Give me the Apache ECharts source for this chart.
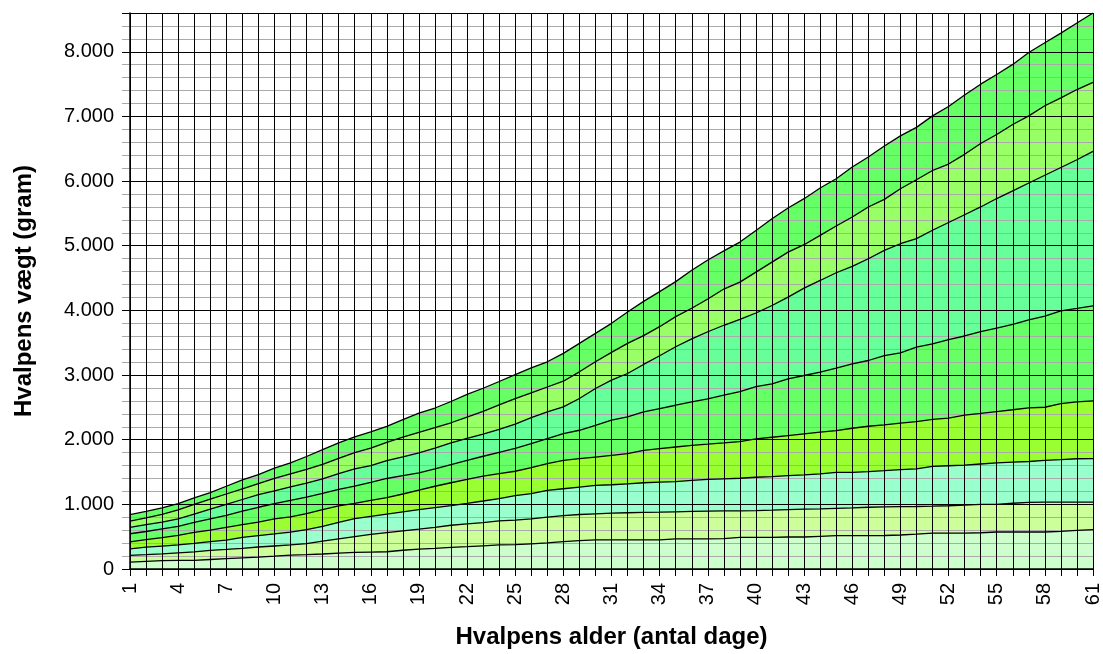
<!DOCTYPE html>
<html>
<head>
<meta charset="utf-8">
<script src="https://cdn.jsdelivr.net/npm/echarts@6/dist/echarts.min.js"></script>
<style>html,body{margin:0;padding:0;background:#fff}#c{width:1103px;height:654px}</style>
</head>
<body>
<div id="c"></div>
<script>
// Categories: puppy age in days
const days = ['1','2','3','4','5','6','7','8','9','10','11','12','13','14','15','16','17','18','19','20','21','22','23','24','25','26','27','28','29','30','31','32','33','34','35','36','37','38','39','40','41','42','43','44','45','46','47','48','49','50','51','52','53','54','55','56','57','58','59','60','61'];

// Weight curves (gram), lowest to highest
const w1 = [105,118,130,132,133,147,160,172,184,198,214,222,232,245,257,262,267,290,308,320,334,345,359,372,378,390,403,424,440,450,450,450,450,452,465,465,466,470,490,490,490,495,495,506,516,516,516,518,526,540,556,556,556,561,572,572,572,572,583,598,608];
const w2 = [212,222,235,250,265,287,303,320,340,356,372,392,430,465,500,535,564,590,616,645,677,698,718,745,755,776,802,827,843,853,863,870,875,879,885,890,895,900,900,903,910,918,925,929,939,944,955,962,965,967,972,978,989,1000,1000,1017,1030,1033,1033,1033,1033];
const w3 = [312,338,355,372,395,425,448,488,515,542,570,610,660,720,780,815,850,885,919,950,980,1015,1052,1090,1135,1165,1215,1241,1267,1292,1303,1318,1334,1344,1350,1370,1385,1395,1404,1419,1429,1445,1455,1471,1496,1496,1507,1522,1538,1550,1586,1597,1608,1624,1641,1652,1663,1680,1691,1705,1707];
const w4 = [420,455,485,520,565,600,645,685,725,775,805,855,920,975,1016,1060,1103,1160,1221,1280,1334,1385,1437,1475,1512,1567,1629,1680,1706,1732,1758,1784,1835,1861,1887,1913,1930,1950,1971,2012,2038,2064,2090,2116,2141,2177,2208,2229,2255,2280,2313,2335,2380,2407,2435,2463,2491,2502,2558,2585,2602];
const w5 = [545,580,620,660,720,775,830,895,955,1010,1060,1110,1170,1230,1283,1340,1400,1445,1488,1550,1616,1680,1744,1805,1865,1939,2016,2094,2146,2223,2301,2352,2430,2482,2533,2585,2630,2690,2745,2822,2864,2941,2993,3044,3106,3173,3225,3302,3344,3431,3481,3548,3604,3671,3726,3782,3854,3910,3993,4030,4070];
const w6 = [645,685,725,775,850,925,1000,1075,1150,1210,1270,1330,1395,1475,1549,1600,1677,1735,1796,1870,1950,2020,2088,2160,2240,2340,2430,2507,2637,2792,2921,3024,3164,3298,3438,3560,3670,3770,3860,3960,4076,4205,4345,4463,4582,4680,4799,4928,5031,5110,5240,5360,5480,5600,5730,5850,5970,6090,6210,6330,6460];
const w7 = [740,790,845,915,1000,1080,1160,1240,1320,1400,1470,1540,1620,1710,1800,1870,1960,2040,2113,2185,2262,2350,2437,2540,2635,2725,2815,2905,3050,3205,3350,3490,3609,3748,3903,4033,4177,4330,4438,4592,4747,4902,5016,5160,5305,5444,5599,5717,5882,6020,6164,6264,6414,6581,6720,6876,7009,7165,7288,7416,7527];
const w8 = [840,890,945,1010,1100,1180,1280,1380,1460,1560,1640,1740,1845,1950,2045,2120,2206,2310,2411,2490,2591,2700,2796,2900,3005,3110,3205,3335,3490,3645,3800,3975,4140,4290,4445,4620,4780,4920,5057,5237,5418,5583,5728,5893,6037,6218,6373,6543,6700,6831,7009,7154,7332,7499,7649,7805,7989,8139,8289,8445,8601];

// Y tick labels
const yTickValues = [0,1000,2000,3000,4000,5000,6000,7000,8000];
const yTickLabels = ['0','1.000','2.000','3.000','4.000','5.000','6.000','7.000','8.000'];

const curves = [w8, w7, w6, w5, w4, w3, w2, w1];
const colors = ['#66ff66', '#99ff66', '#66ff99', '#66ff66', '#99ff33', '#99ffcc', '#ccff99', '#ccffcc'];

const FONT = 'Liberation Sans, Arial, sans-serif';

const areaSeries = curves.map(function (d, i) {
  return {
    type: 'line', data: d, yAxisIndex: 0, symbol: 'none', z: 1, silent: true,
    lineStyle: {width: 0, opacity: 0},
    areaStyle: {color: colors[i], opacity: 1}
  };
});
const lineSeries = curves.map(function (d) {
  return {
    type: 'line', data: d, yAxisIndex: 0, symbol: 'none', z: 6, silent: true,
    lineStyle: {color: '#000', width: 1.3}
  };
});

const chart = echarts.init(document.getElementById('c'), null, {renderer: 'canvas'});
chart.setOption({
  animation: false,
  backgroundColor: '#ffffff',
  grid: {left: 130, right: 9, top: 13, bottom: 84, show: false},
  xAxis: {
    type: 'category',
    data: days,
    boundaryGap: false,
    z: 4,
    name: 'Hvalpens alder (antal dage)',
    nameLocation: 'middle',
    nameGap: 56,
    nameTextStyle: {fontFamily: FONT, fontWeight: 'bold', fontSize: 24, color: '#000'},
    axisLine: {lineStyle: {color: '#000', width: 1.5}},
    axisTick: {show: true, interval: 0, length: 7, lineStyle: {color: '#000'}},
    axisLabel: {interval: 2, rotate: 90, fontFamily: FONT, fontSize: 20, color: '#000', margin: 14},
    splitLine: {show: true, interval: 0, lineStyle: {color: '#000', width: 1}}
  },
  yAxis: [{
    type: 'value',
    min: 0, max: 8600, interval: 1000,
    z: 4,
    name: 'Hvalpens vægt (gram)',
    nameLocation: 'middle',
    nameGap: 94,
    nameRotate: 90,
    nameTextStyle: {fontFamily: FONT, fontWeight: 'bold', fontSize: 24, color: '#000'},
    axisLine: {show: true, lineStyle: {color: '#000', width: 1.5}},
    axisTick: {show: true, length: 8, lineStyle: {color: '#000'}},
    axisLabel: {
      fontFamily: FONT, fontSize: 20, color: '#000', margin: 16,
      formatter: function (v) { const i = yTickValues.indexOf(v); return i >= 0 ? yTickLabels[i] : ''; }
    },
    splitLine: {show: true, lineStyle: {color: '#000', width: 1}}
  }, {
    type: 'value',
    position: 'left',
    min: 0, max: 8600, interval: 200,
    z: 3,
    axisLine: {show: false},
    axisTick: {show: true, length: 8, lineStyle: {color: '#aaaaaa'}},
    axisLabel: {show: false},
    splitLine: {show: true, lineStyle: {color: '#aaaaaa', width: 1}}
  }],
  series: areaSeries.concat(lineSeries)
});
</script>
</body>
</html>
